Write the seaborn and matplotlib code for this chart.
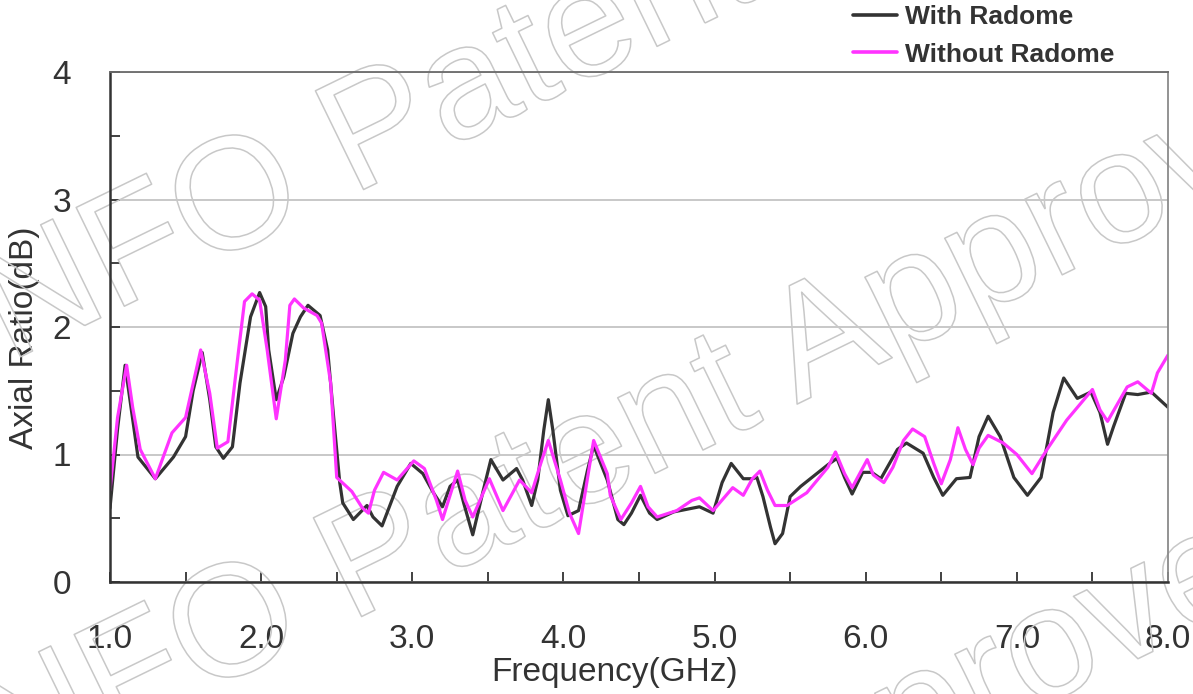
"""Axial ratio vs frequency, with and without radome."""

import matplotlib
matplotlib.use("Agg")

import matplotlib.patheffects as pe
import matplotlib.pyplot as plt
import pandas as pd
import seaborn as sns
from matplotlib.ticker import MultipleLocator

# Courbe "With Radome"
freq_with = [1.00, 1.05, 1.10, 1.185, 1.30, 1.42, 1.50, 1.55, 1.61, 1.66, 1.70, 1.75,
             1.81, 1.86, 1.93, 1.99, 2.03, 2.05, 2.10, 2.15, 2.21, 2.26, 2.31, 2.39,
             2.44, 2.48, 2.52, 2.54, 2.61, 2.70, 2.74, 2.80, 2.90, 2.99, 3.07, 3.14,
             3.20, 3.25, 3.30, 3.34, 3.40, 3.47, 3.52, 3.60, 3.69, 3.73, 3.79, 3.83,
             3.87, 3.90, 3.93, 3.98, 4.03, 4.10, 4.16, 4.20, 4.29, 4.36, 4.40, 4.45,
             4.51, 4.57, 4.62, 4.73, 4.90, 4.99, 5.05, 5.11, 5.19, 5.25, 5.28, 5.32,
             5.37, 5.40, 5.45, 5.50, 5.57, 5.75, 5.81, 5.86, 5.91, 5.98, 6.04, 6.10,
             6.21, 6.27, 6.38, 6.45, 6.51, 6.60, 6.69, 6.75, 6.81, 6.89, 6.98, 7.07,
             7.16, 7.24, 7.31, 7.40, 7.49, 7.55, 7.60, 7.64, 7.72, 7.80, 7.89, 8.00]
ar_with = [0.58, 1.20, 1.70, 0.98, 0.81, 0.98, 1.14, 1.50, 1.80, 1.43, 1.06, 0.97,
           1.06, 1.56, 2.08, 2.27, 2.16, 1.82, 1.43, 1.61, 1.95, 2.08, 2.17, 2.09,
           1.82, 1.29, 0.78, 0.62, 0.49, 0.60, 0.51, 0.44, 0.75, 0.93, 0.85, 0.70,
           0.59, 0.75, 0.80, 0.62, 0.37, 0.72, 0.96, 0.80, 0.89, 0.80, 0.60, 0.80,
           1.19, 1.43, 1.19, 0.72, 0.52, 0.56, 0.88, 1.07, 0.80, 0.49, 0.45, 0.54,
           0.68, 0.54, 0.49, 0.55, 0.59, 0.54, 0.78, 0.93, 0.81, 0.81, 0.82, 0.67,
           0.43, 0.30, 0.38, 0.67, 0.75, 0.92, 0.97, 0.82, 0.69, 0.86, 0.86, 0.81,
           1.04, 1.09, 1.01, 0.82, 0.68, 0.81, 0.82, 1.14, 1.30, 1.14, 0.82, 0.68,
           0.82, 1.33, 1.60, 1.44, 1.49, 1.33, 1.08, 1.22, 1.48, 1.47, 1.49, 1.37]

# Courbe "Without Radome"
freq_without = [1.00, 1.05, 1.11, 1.15, 1.20, 1.30, 1.41, 1.50, 1.60, 1.66, 1.71, 1.78,
                1.84, 1.89, 1.94, 1.99, 2.04, 2.10, 2.16, 2.19, 2.22, 2.28, 2.37, 2.40,
                2.46, 2.50, 2.60, 2.67, 2.71, 2.75, 2.81, 2.90, 3.01, 3.08, 3.16, 3.20,
                3.30, 3.35, 3.40, 3.51, 3.60, 3.71, 3.79, 3.85, 3.90, 3.98, 4.04, 4.10,
                4.16, 4.20, 4.29, 4.31, 4.38, 4.45, 4.51, 4.56, 4.62, 4.75, 4.85, 4.90,
                4.99, 5.12, 5.19, 5.25, 5.30, 5.35, 5.40, 5.48, 5.61, 5.75, 5.80, 5.86,
                5.91, 6.01, 6.05, 6.12, 6.18, 6.25, 6.31, 6.39, 6.45, 6.50, 6.56, 6.61,
                6.66, 6.71, 6.75, 6.81, 6.91, 7.00, 7.10, 7.20, 7.33, 7.50, 7.55, 7.60,
                7.73, 7.80, 7.89, 7.93, 8.00]
ar_without = [0.72, 1.29, 1.70, 1.37, 1.04, 0.81, 1.17, 1.29, 1.82, 1.48, 1.05, 1.10,
              1.71, 2.20, 2.26, 2.21, 1.82, 1.28, 1.74, 2.17, 2.22, 2.15, 2.09, 2.03,
              1.56, 0.82, 0.71, 0.58, 0.54, 0.72, 0.86, 0.80, 0.95, 0.89, 0.64, 0.49,
              0.87, 0.64, 0.51, 0.81, 0.56, 0.80, 0.70, 0.93, 1.11, 0.80, 0.54, 0.38,
              0.82, 1.11, 0.85, 0.68, 0.49, 0.62, 0.75, 0.59, 0.51, 0.56, 0.64, 0.66,
              0.56, 0.74, 0.68, 0.81, 0.87, 0.72, 0.60, 0.60, 0.70, 0.90, 1.02, 0.85,
              0.74, 0.96, 0.84, 0.78, 0.90, 1.11, 1.20, 1.14, 0.93, 0.77, 0.96, 1.21,
              1.04, 0.92, 1.05, 1.15, 1.09, 1.00, 0.85, 1.04, 1.27, 1.51, 1.35, 1.26,
              1.53, 1.57, 1.48, 1.64, 1.78]

series_names = ["With Radome", "Without Radome"]
series_colors = ["#333333", "#ff33ff"]
x_ticks = [1.0, 2.0, 3.0, 4.0, 5.0, 6.0, 7.0, 8.0]
y_ticks = [0, 1, 2, 3, 4]

WATERMARK = "INFO Patent Approved"
# point de départ (pixels image) de chaque filigrane
watermark_starts = [(-31, 382), (-33, 809), (-103, 1264)]

W, H = 1193, 694


def build_frame() -> pd.DataFrame:
    """Assemble les deux courbes en format long pour seaborn."""
    df_with = pd.DataFrame({"freq": freq_with, "ar": ar_with, "serie": series_names[0]})
    df_without = pd.DataFrame({"freq": freq_without, "ar": ar_without, "serie": series_names[1]})
    return pd.concat([df_with, df_without], ignore_index=True)


def main() -> None:
    sns.set_theme(style="white")
    plt.rcParams["font.family"] = ["Liberation Sans", "DejaVu Sans"]

    df = build_frame()

    fig = plt.figure(figsize=(W / 100, H / 100), dpi=100)
    ax = fig.add_axes([110 / W, 112 / H, 1058 / W, 510 / H])

    sns.lineplot(data=df, x="freq", y="ar", hue="serie", hue_order=series_names,
                 palette=series_colors, linewidth=2.3, sort=False, estimator=None,
                 legend=False, ax=ax, solid_joinstyle="round", solid_capstyle="round")

    ax.set_xlim(1.0, 8.0)
    ax.set_ylim(0, 4)
    ax.set_xticks(x_ticks)
    ax.set_xticklabels([f"{v:.1f}" for v in x_ticks])
    ax.set_yticks(y_ticks)
    ax.set_yticklabels([str(v) for v in y_ticks])
    ax.xaxis.set_minor_locator(MultipleLocator(0.5))
    ax.yaxis.set_minor_locator(MultipleLocator(0.5))

    ax.tick_params(axis="both", which="both", direction="in", colors="#333333",
                   labelsize=24, length=7, width=1.3, bottom=True, left=True)
    ax.tick_params(axis="x", which="major", pad=30)
    ax.tick_params(axis="y", which="major", pad=28)

    ax.yaxis.grid(True, color="#c4c4c4", linewidth=1.3)
    ax.set_axisbelow(True)

    for side in ["left", "bottom"]:
        ax.spines[side].set_color("#333333")
        ax.spines[side].set_linewidth(1.8)
    ax.spines["top"].set_color("#6a6a6a")
    ax.spines["top"].set_linewidth(1.3)
    ax.spines["right"].set_color("#8a8a8a")
    ax.spines["right"].set_linewidth(1.3)

    ax.set_xlabel("Frequency(GHz)", fontsize=24, color="#333333")
    ax.set_ylabel("Axial Ratio(dB)", fontsize=24, color="#333333")
    ax.xaxis.set_label_coords((615 - 110) / 1058, (582 - 657) / 510)
    ax.yaxis.set_label_coords((40 - 110) / 1058, (582 - 338) / 510)

    # filigrane en contour gris, derrière les courbes
    for sx, sy in watermark_starts:
        ax.text(sx / W, 1 - sy / H, WATERMARK, transform=fig.transFigure,
                fontsize=115, rotation=26, rotation_mode="anchor",
                ha="left", va="baseline", color=(1, 1, 1, 0), clip_on=False,
                zorder=1.5,
                path_effects=[pe.Stroke(linewidth=1.1, foreground="#c8c8c8")])

    handles = [plt.Line2D([], [], color=c, linewidth=2.6) for c in series_colors]
    leg = fig.legend(handles, series_names, loc="upper left",
                     bbox_to_anchor=(853 / W, 1 - 5 / H), frameon=False,
                     prop={"weight": "bold", "size": 19}, handlelength=1.67,
                     handletextpad=0.3, labelspacing=0.52, borderpad=0,
                     borderaxespad=0)
    for text in leg.get_texts():
        text.set_color("#333333")

    fig.savefig("out.png", dpi=100)
    plt.close(fig)


if __name__ == "__main__":
    main()
